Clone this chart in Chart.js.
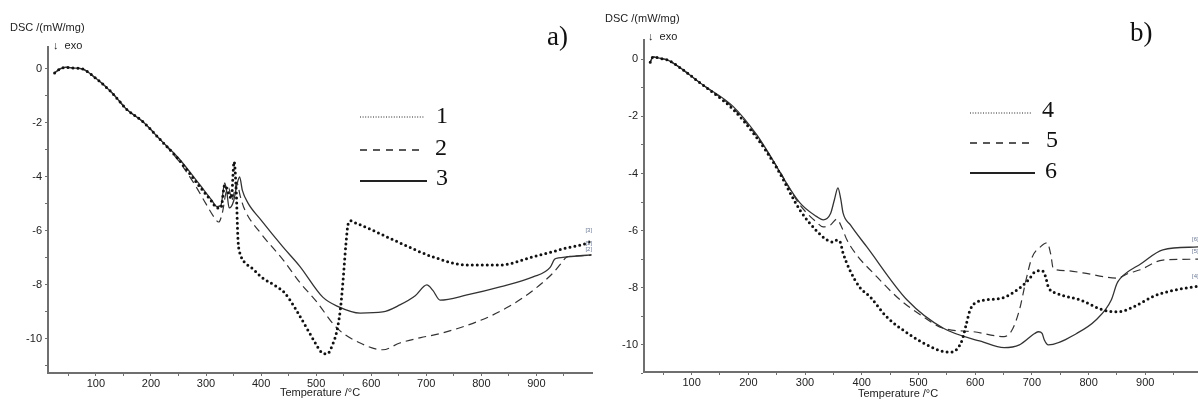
<!DOCTYPE html>
<html><head><meta charset="utf-8">
<script src="https://cdn.jsdelivr.net/npm/chart.js@4"></script>
<style>
html,body{margin:0;padding:0;background:#fff;overflow:hidden;width:1198px;height:400px;}
#wrap{position:relative;width:1198px;height:400px;overflow:hidden;background:#fff;}
canvas{position:absolute;top:0;left:0;}
.t{position:absolute;font-family:"Liberation Sans",Arial,sans-serif;font-size:11px;color:#222;white-space:nowrap;line-height:1;}
.s{position:absolute;font-family:"Liberation Serif","Times New Roman",serif;color:#111;line-height:1;white-space:nowrap;}
svg{position:absolute;left:0;top:0;overflow:visible;}
</style></head>
<body><div id="wrap">
<div style="position:absolute;left:0;top:0;width:600px;height:400px"><canvas id="ca" width="600" height="400"></canvas></div>
<div style="position:absolute;left:600px;top:0;width:610px;height:400px"><canvas id="cb" width="610" height="400"></canvas></div>

<div class="t" style="left:10px;top:22px;">DSC /(mW/mg)</div>
<div class="t" style="left:53px;top:40px;">↓&nbsp; exo</div>
<div class="s" style="left:547px;top:23px;font-size:27px;">a)</div>
<div class="t" style="left:605px;top:13px;">DSC /(mW/mg)</div>
<div class="t" style="left:648px;top:31px;">↓&nbsp; exo</div>
<div class="s" style="left:1130px;top:19px;font-size:27px;">b)</div>
<div class="t" style="left:858px;top:388px;">Temperature /°C</div>

<svg width="1198" height="400">
  <line x1="360" y1="117" x2="425" y2="117" stroke="#222" stroke-width="1" stroke-dasharray="1,1.6"/>
  <line x1="360" y1="150" x2="420" y2="150" stroke="#222" stroke-width="1.3" stroke-dasharray="7,6"/>
  <line x1="360" y1="181" x2="427" y2="181" stroke="#222" stroke-width="1.8"/>
  <line x1="970" y1="113" x2="1032" y2="113" stroke="#222" stroke-width="1" stroke-dasharray="1,1.6"/>
  <line x1="970" y1="143" x2="1029" y2="143" stroke="#222" stroke-width="1.3" stroke-dasharray="7,6"/>
  <line x1="970" y1="173" x2="1035" y2="173" stroke="#222" stroke-width="1.8"/>
</svg>
<div class="s" style="left:436px;top:103px;font-size:24px;">1</div>
<div class="s" style="left:435px;top:135px;font-size:24px;">2</div>
<div class="s" style="left:436px;top:165px;font-size:24px;">3</div>
<div class="s" style="left:1042px;top:97px;font-size:24px;">4</div>
<div class="s" style="left:1046px;top:127px;font-size:24px;">5</div>
<div class="s" style="left:1045px;top:158px;font-size:24px;">6</div>
</div>
<script>
// ---------- Panel a) ----------
const a1T = [25,35,45,60,75,100,130,156,185,216,250,289,310,320,327,334,341,346,351,355,358,363,372,385,400,429,443,463,485,500,510,520,530,538,544,549,554,558,563,567,600,652,712,774,834,894,955,992,1000];
const a1V = [-0.15,0,0.06,0.03,0,-0.35,-0.9,-1.5,-1.95,-2.6,-3.35,-4.37,-4.9,-5.15,-5.15,-4.3,-4.6,-4.8,-3.44,-4.6,-6.3,-6.9,-7.2,-7.4,-7.7,-8.07,-8.3,-8.9,-9.67,-10.2,-10.5,-10.55,-10.2,-9.67,-8.9,-7.8,-6.5,-5.75,-5.62,-5.66,-5.95,-6.44,-6.96,-7.26,-7.26,-6.96,-6.63,-6.45,-6.35];
const a2T = [25,35,45,60,75,100,130,156,185,216,250,280,300,315,323,330,336,341,347,352,356,362,370,400,440,470,500,538,580,621,652,690,725,800,850,894,930,945,955,970,1000];
const a2V = [-0.15,0,0.06,0.03,0,-0.35,-0.9,-1.5,-1.95,-2.6,-3.4,-4.3,-5.0,-5.5,-5.67,-5.3,-4.6,-4.4,-4.85,-4.5,-4.2,-4.7,-5.2,-6.1,-7.07,-7.9,-8.6,-9.6,-10.15,-10.4,-10.15,-9.95,-9.8,-9.3,-8.8,-8.2,-7.56,-7.2,-6.97,-6.93,-6.9];
const a3T = [25,35,45,60,75,100,130,156,185,216,250,289,310,320,327,334,338,342,350,356,361,366,376,400,440,470,512,540,580,621,652,680,701,712,725,774,834,894,925,933,940,955,992,1000];
const a3V = [-0.15,0,0.06,0.03,0,-0.35,-0.9,-1.5,-1.95,-2.6,-3.3,-4.3,-4.85,-5.1,-5.05,-4.22,-4.6,-5.15,-4.9,-4.3,-4.0,-4.5,-4.96,-5.6,-6.6,-7.3,-8.45,-8.8,-9.04,-9.0,-8.74,-8.4,-8.0,-8.2,-8.56,-8.37,-8.07,-7.7,-7.35,-7.05,-7.0,-6.96,-6.9,-6.88];

// ---------- Panel b) ----------
const b4T = [27,32,45,57,80,115,173,215,250,291,320,339,350,356,362,367,379,396,415,443,490,520,544,560,567,577,584,591,604,645,678,695,705,718,724,729,745,786,826,853,880,914,947,993];
const b4V = [-0.1,0.08,0.03,-0.02,-0.3,-0.83,-1.75,-2.75,-3.8,-5.28,-6.0,-6.33,-6.4,-6.33,-6.4,-6.78,-7.38,-7.97,-8.32,-9.0,-9.71,-10.05,-10.23,-10.25,-10.17,-9.83,-9.3,-8.78,-8.49,-8.37,-8.02,-7.7,-7.45,-7.4,-7.6,-7.97,-8.2,-8.43,-8.78,-8.84,-8.66,-8.3,-8.1,-7.95];
const b5T = [27,32,45,57,80,115,173,215,250,291,320,332,345,356,365,374,393,420,468,500,544,597,651,665,678,690,700,715,727,733,738,760,790,850,870,891,931,993];
const b5V = [-0.1,0.08,0.03,-0.02,-0.3,-0.83,-1.7,-2.7,-3.75,-5.1,-5.7,-5.87,-5.8,-5.6,-5.9,-6.33,-6.9,-7.48,-8.43,-8.9,-9.42,-9.54,-9.71,-9.48,-8.78,-7.7,-6.95,-6.57,-6.43,-6.8,-7.34,-7.4,-7.48,-7.66,-7.5,-7.37,-7.03,-7.0];
const b6T = [27,32,45,57,80,115,173,215,233,291,320,332,345,352,358,363,367,380,409,480,544,611,651,678,705,712,718,722,729,779,813,840,850,856,893,931,993];
const b6V = [-0.1,0.08,0.03,-0.02,-0.3,-0.83,-1.65,-2.65,-3.2,-5.03,-5.5,-5.62,-5.4,-4.9,-4.5,-4.9,-5.38,-5.8,-6.57,-8.43,-9.42,-9.88,-10.1,-10.0,-9.6,-9.54,-9.6,-9.83,-10.0,-9.6,-9.13,-8.43,-7.85,-7.67,-7.15,-6.67,-6.57];

// ticks
const xTicks = [50,100,150,200,250,300,350,400,450,500,550,600,650,700,750,800,850,900,950];
const xLabels = [100,200,300,400,500,600,700,800,900];
const yTicks = [-11,-10,-9,-8,-7,-6,-5,-4,-3,-2,-1,0];
const yLabels = [-10,-8,-6,-4,-2,0];
const tagsA = ['[3]','[2]','[1]'];
const tagsB = ['[4]','[5]','[6]'];

function pts(T, V){ return T.map((t,i)=>({x:t, y:V[i]})); }

const styles = {
  dotted: {borderColor:'#111', borderWidth:3, borderDash:[0,5], borderCapStyle:'round'},
  dashed: {borderColor:'#333', borderWidth:1.2, borderDash:[8,5]},
  solid:  {borderColor:'#333', borderWidth:1.3, borderDash:[]}
};

const endTags = {
  id:'endTags',
  afterDatasetsDraw(chart){
    const ctx = chart.ctx; ctx.save();
    ctx.font = '6px "Liberation Sans", Arial, sans-serif';
    ctx.fillStyle = '#6a7894';
    chart.data.datasets.forEach((ds,i)=>{
      const meta = chart.getDatasetMeta(i);
      const p = meta.data[meta.data.length-1];
      if(!p || !ds.tag) return;
      ctx.fillText(ds.tag, p.x-6, p.y-(ds.tagDy||6));
    });
    ctx.restore();
  }
};

function makeChart(id, sets, cfg){
  return new Chart(document.getElementById(id), {
    type:'line',
    data:{datasets: sets.map(s=>Object.assign({
      data: pts(s.T, s.V), pointRadius:0, fill:false,
      cubicInterpolationMode:'monotone', tag:s.tag, tagDy:s.tagDy
    }, styles[s.style]))},
    options:{
      responsive:false, animation:false,
      layout:{padding:{top:cfg.top, right:cfg.right, left:0, bottom:0}},
      plugins:{legend:{display:false}, tooltip:{enabled:false}},
      scales:{
        x:{type:'linear', min:cfg.xmin, max:cfg.xmax,
          afterFit:s=>{s.height=cfg.xh;},
          afterBuildTicks:s=>{s.ticks = xTicks.map(v=>({value:v}));},
          border:{color:'#6f6f6f', width:2},
          grid:{drawOnChartArea:false, drawTicks:true, tickLength:3, color:'#6f6f6f', tickWidth:1},
          ticks:{autoSkip:false, maxRotation:0, padding:1, color:'#222',
            font:{family:'"Liberation Sans", Arial, sans-serif', size:11},
            callback:v=>xLabels.includes(v)?String(v):''},
          title:{display:cfg.xtitle, text:'Temperature /°C', padding:{top:0,bottom:0}, color:'#222',
            font:{family:'"Liberation Sans", Arial, sans-serif', size:11}}
        },
        y:{type:'linear', min:cfg.ymin, max:cfg.ymax,
          afterFit:s=>{s.width=cfg.yw;},
          afterBuildTicks:s=>{s.ticks = yTicks.map(v=>({value:v}));},
          border:{color:'#6f6f6f', width:2},
          grid:{drawOnChartArea:false, drawTicks:true, tickLength:3, color:'#6f6f6f', tickWidth:1},
          ticks:{autoSkip:false, padding:3, color:'#222',
            font:{family:'"Liberation Sans", Arial, sans-serif', size:11},
            callback:v=>yLabels.includes(v)?String(v):''}
        }
      }
    },
    plugins:[endTags]
  });
}

makeChart('ca', [
  {T:a1T, V:a1V, style:'dotted', tag:tagsA[0], tagDy:8},
  {T:a2T, V:a2V, style:'dashed', tag:tagsA[1], tagDy:4},
  {T:a3T, V:a3V, style:'solid', tag:tagsA[2], tagDy:10}
], {xmin:13, xmax:1001, ymin:-11.26, ymax:0.81, top:47, right:8, xh:27, yw:48, xtitle:true});

makeChart('cb', [
  {T:b4T, V:b4V, style:'dotted', tag:tagsB[0], tagDy:8},
  {T:b5T, V:b5V, style:'dashed', tag:tagsB[1], tagDy:6},
  {T:b6T, V:b6V, style:'solid', tag:tagsB[2], tagDy:6}
], {xmin:16, xmax:1000, ymin:-10.95, ymax:0.675, top:40, right:8, xh:28, yw:44, xtitle:false});
</script>
</body></html>
